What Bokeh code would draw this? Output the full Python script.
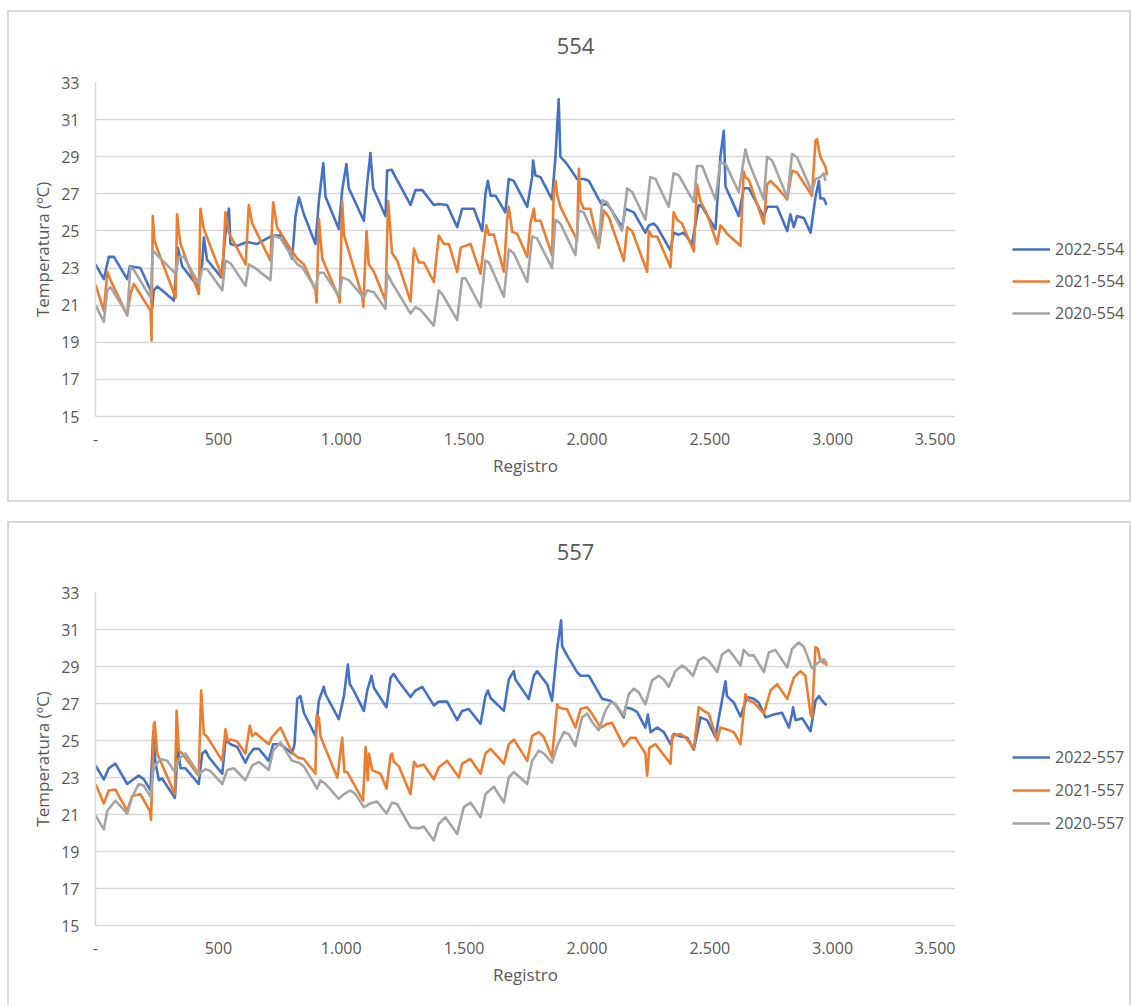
from bokeh.plotting import figure
from bokeh.models import Range1d, FixedTicker, Legend, LegendItem, Label
from bokeh.layouts import column, row
from bokeh.embed import file_html
from bokeh.resources import INLINE

# ---------------- data (Registro, Temperatura ºC) ----------------
X_TICKS = [0, 500, 1000, 1500, 2000, 2500, 3000, 3500]
X_TICK_LABELS = ["-", "500", "1.000", "1.500", "2.000", "2.500", "3.000", "3.500"]
Y_TICKS = [15, 17, 19, 21, 23, 25, 27, 29, 31, 33]

S554_2022 = [(0, 23.2), (34, 22.4), (54, 23.6), (75, 23.6), (129, 22.4), (140, 23.1), (183, 23.0), (224, 21.8),
             (231, 20.85), (237, 21.8), (251, 22.0), (271, 21.8), (319, 21.25), (335, 24.1), (353, 23.1), (414, 22.05),
             (434, 23.2), (441, 24.65), (454, 23.45), (512, 22.5), (529, 24.85), (543, 26.2), (549, 24.3), (577, 24.2),
             (617, 24.4), (658, 24.3), (719, 24.75), (760, 24.75), (800, 23.5), (814, 25.8), (828, 26.8), (848, 25.9),
             (895, 24.3), (909, 26.6), (927, 28.64), (936, 26.85), (990, 25.1), (1004, 27.2), (1021, 28.6), (1031, 27.3),
             (1092, 25.55), (1106, 27.6), (1119, 29.2), (1130, 27.3), (1180, 25.8), (1187, 28.25), (1205, 28.3),
             (1221, 27.9), (1282, 26.4), (1302, 27.2), (1330, 27.2), (1377, 26.4), (1397, 26.45), (1431, 26.4),
             (1472, 25.2), (1492, 26.2), (1540, 26.2), (1574, 25.0), (1587, 27.0), (1597, 27.7), (1608, 26.9),
             (1628, 26.9), (1668, 26.0), (1682, 27.8), (1702, 27.7), (1757, 26.3), (1777, 27.9), (1781, 28.8),
             (1790, 28.0), (1811, 27.9), (1858, 26.7), (1872, 29.0), (1885, 32.1), (1892, 29.0), (1919, 28.6),
             (1960, 27.8), (1987, 27.8), (2008, 27.7), (2048, 26.7), (2062, 26.4), (2082, 26.45), (2096, 26.2),
             (2143, 25.2), (2157, 26.2), (2191, 26.0), (2238, 24.9), (2252, 25.3), (2272, 25.4), (2286, 25.2),
             (2340, 23.95), (2353, 24.9), (2374, 24.8), (2394, 24.9), (2428, 24.3), (2455, 26.4), (2469, 26.3),
             (2523, 25.1), (2543, 29.0), (2557, 30.4), (2564, 27.4), (2618, 25.8), (2638, 27.3), (2659, 27.3),
             (2720, 25.75), (2733, 26.3), (2774, 26.3), (2815, 25.0), (2828, 25.9), (2842, 25.2), (2855, 25.8),
             (2883, 25.7), (2910, 24.9), (2930, 26.8), (2944, 27.7), (2950, 26.75), (2964, 26.75), (2975, 26.4)]

S554_2021 = [(0, 22.1), (34, 20.7), (48, 22.8), (61, 22.35), (129, 20.45), (142, 21.6), (156, 22.15), (224, 20.7),
             (228, 19.1), (233, 25.8), (240, 24.5), (251, 24.05), (326, 21.4), (332, 25.9), (339, 25.0), (346, 24.3),
             (421, 21.6), (427, 26.2), (441, 25.1), (516, 22.5), (529, 26.0), (543, 24.9), (611, 23.2), (624, 26.4),
             (638, 25.4), (712, 23.4), (723, 26.55), (739, 25.2), (800, 23.9), (821, 23.5), (848, 23.2), (895, 21.8),
             (900, 21.15), (909, 25.65), (923, 23.5), (990, 21.4), (994, 21.15), (1004, 26.6), (1011, 24.8),
             (1031, 23.9), (1085, 21.5), (1090, 20.9), (1103, 25.0), (1112, 23.2), (1133, 22.8), (1180, 21.25),
             (1191, 26.6), (1207, 23.8), (1228, 23.4), (1282, 21.2), (1296, 24.05), (1316, 23.3), (1336, 23.3),
             (1377, 22.25), (1397, 24.75), (1418, 24.3), (1438, 24.3), (1472, 22.8), (1486, 24.1), (1526, 24.3),
             (1567, 22.7), (1581, 24.3), (1591, 25.3), (1601, 24.8), (1621, 24.8), (1662, 22.8), (1675, 25.6),
             (1682, 26.3), (1696, 24.95), (1716, 24.85), (1757, 23.6), (1770, 25.4), (1784, 26.2), (1790, 25.55),
             (1811, 25.55), (1858, 23.7), (1865, 27.2), (1872, 27.7), (1879, 26.95), (1892, 26.3), (1960, 24.5),
             (1967, 28.35), (1974, 26.6), (1987, 26.2), (2014, 26.2), (2048, 24.1), (2069, 26.1), (2089, 25.75),
             (2150, 23.4), (2164, 25.2), (2184, 25.0), (2245, 22.8), (2252, 25.0), (2265, 24.7), (2286, 24.7),
             (2340, 23.05), (2353, 26.0), (2367, 25.6), (2387, 25.4), (2435, 23.9), (2448, 27.5), (2462, 26.6),
             (2489, 25.9), (2530, 24.3), (2543, 25.3), (2557, 25.1), (2570, 24.85), (2625, 24.2), (2638, 28.2),
             (2645, 27.9), (2659, 27.75), (2720, 25.4), (2733, 27.5), (2747, 27.7), (2774, 27.35), (2815, 26.7),
             (2835, 28.25), (2855, 28.15), (2916, 26.9), (2930, 29.85), (2937, 29.95), (2944, 29.35), (2950, 29.0),
             (2971, 28.45), (2977, 28.0)]

S554_2020 = [(0, 21.0), (34, 20.1), (48, 21.8), (61, 21.97), (129, 20.5), (142, 23.05), (156, 22.9), (224, 21.4),
             (233, 23.95), (251, 23.7), (326, 22.7), (339, 23.6), (360, 23.6), (421, 22.15), (434, 22.95), (454, 22.95),
             (516, 21.8), (529, 23.4), (550, 23.25), (611, 22.05), (624, 23.2), (644, 23.05), (712, 22.35), (723, 24.75),
             (753, 24.6), (800, 23.6), (821, 23.2), (841, 23.05), (895, 21.9), (909, 22.75), (929, 22.75), (990, 21.5),
             (1004, 22.5), (1031, 22.35), (1092, 21.4), (1106, 21.8), (1133, 21.7), (1180, 20.8), (1187, 22.7),
             (1207, 22.2), (1282, 20.55), (1302, 20.9), (1323, 20.75), (1377, 19.9), (1397, 21.8), (1411, 21.6),
             (1472, 20.2), (1492, 22.45), (1506, 22.45), (1567, 20.9), (1587, 23.4), (1601, 23.3), (1662, 21.45),
             (1682, 24.0), (1702, 23.8), (1757, 22.25), (1777, 24.7), (1797, 24.6), (1858, 23.0), (1872, 25.6),
             (1892, 25.4), (1953, 23.7), (1967, 26.1), (1987, 26.0), (2048, 24.2), (2062, 26.65), (2082, 26.55),
             (2143, 25.0), (2164, 27.3), (2184, 27.1), (2238, 25.6), (2258, 27.9), (2279, 27.8), (2333, 26.3),
             (2353, 28.1), (2374, 28.0), (2435, 26.55), (2448, 28.5), (2469, 28.5), (2523, 26.7), (2543, 28.7),
             (2564, 28.6), (2618, 27.1), (2645, 29.4), (2659, 28.7), (2720, 26.7), (2733, 29.0), (2754, 28.8),
             (2815, 26.8), (2835, 29.15), (2855, 28.97), (2916, 27.1), (2930, 27.8), (2950, 27.9), (2964, 28.1),
             (2971, 27.7)]

S557_2022 = [(0, 23.65), (34, 22.9), (54, 23.5), (81, 23.75), (129, 22.65), (149, 22.85), (176, 23.1), (197, 22.9),
             (224, 22.3), (235, 25.45), (244, 23.8), (258, 22.85), (271, 22.95), (323, 21.9), (335, 24.6), (346, 23.5),
             (366, 23.5), (420, 22.65), (434, 24.3), (448, 24.45), (461, 24.1), (516, 23.2), (529, 25.0), (550, 24.8),
             (577, 24.65), (610, 23.8), (624, 24.2), (644, 24.55), (665, 24.55), (705, 23.9), (723, 24.8), (753, 24.8),
             (800, 24.3), (810, 24.8), (821, 27.25), (834, 27.4), (848, 26.5), (895, 25.25), (909, 27.15), (929, 27.9),
             (936, 27.5), (990, 26.15), (1011, 27.4), (1027, 29.1), (1035, 28.05), (1051, 27.7), (1092, 26.6),
             (1106, 27.7), (1123, 28.5), (1133, 27.85), (1184, 26.8), (1201, 28.4), (1214, 28.6), (1228, 28.3),
             (1282, 27.35), (1302, 27.7), (1330, 27.9), (1377, 26.9), (1397, 27.1), (1431, 27.1), (1472, 26.1),
             (1492, 26.6), (1519, 26.7), (1567, 25.9), (1587, 27.4), (1597, 27.7), (1608, 27.3), (1662, 26.6),
             (1682, 28.3), (1702, 28.75), (1709, 28.3), (1763, 27.25), (1784, 28.5), (1797, 28.75), (1811, 28.5),
             (1838, 28.05), (1858, 27.15), (1879, 30.0), (1895, 31.5), (1899, 30.1), (1919, 29.6), (1960, 28.7),
             (1974, 28.5), (2008, 28.5), (2062, 27.25), (2096, 27.15), (2116, 26.95), (2150, 26.25), (2157, 26.8),
             (2184, 26.7), (2204, 26.55), (2238, 25.7), (2248, 26.4), (2259, 25.45), (2286, 25.7), (2313, 25.45),
             (2340, 24.8), (2353, 25.35), (2374, 25.25), (2408, 25.15), (2435, 24.5), (2462, 26.25), (2489, 26.1),
             (2523, 25.2), (2557, 27.7), (2564, 28.2), (2570, 27.4), (2598, 27.05), (2625, 26.3), (2652, 27.35),
             (2679, 27.25), (2699, 27.05), (2727, 26.25), (2760, 26.4), (2794, 26.5), (2822, 25.7), (2835, 26.45),
             (2839, 26.8), (2849, 26.1), (2876, 26.2), (2910, 25.5), (2930, 27.15), (2944, 27.4), (2957, 27.15),
             (2975, 26.9)]

S557_2021 = [(0, 22.65), (34, 21.6), (54, 22.3), (81, 22.35), (129, 21.2), (149, 22.0), (183, 22.1), (221, 21.2),
             (226, 20.7), (237, 25.9), (241, 26.0), (251, 24.3), (323, 22.1), (330, 26.6), (339, 24.45), (353, 24.3),
             (420, 23.1), (430, 27.7), (441, 25.35), (454, 25.2), (516, 23.9), (529, 25.6), (539, 24.95), (550, 25.05),
             (577, 24.95), (610, 24.3), (628, 25.8), (638, 25.25), (651, 25.4), (705, 24.8), (719, 25.2), (753, 25.7),
             (800, 24.35), (821, 24.1), (848, 24.0), (895, 23.2), (900, 26.35), (909, 26.25), (916, 25.2), (984, 23.0),
             (1004, 25.15), (1013, 23.3), (1024, 23.3), (1089, 21.75), (1099, 24.65), (1108, 22.85), (1113, 24.3),
             (1126, 23.4), (1160, 23.2), (1184, 22.4), (1201, 24.2), (1207, 24.3), (1214, 23.85), (1235, 23.6),
             (1282, 22.1), (1296, 23.85), (1309, 23.6), (1336, 23.7), (1377, 22.9), (1397, 23.55), (1431, 23.9),
             (1479, 23.0), (1492, 23.75), (1526, 24.0), (1567, 23.2), (1587, 24.3), (1608, 24.55), (1662, 23.75),
             (1682, 24.8), (1703, 25.05), (1757, 23.9), (1777, 25.25), (1804, 25.45), (1824, 25.2), (1858, 24.1),
             (1879, 26.95), (1885, 26.8), (1906, 26.7), (1919, 26.7), (1953, 25.7), (1974, 26.7), (2001, 26.8),
             (2021, 26.44), (2055, 25.7), (2082, 25.9), (2102, 25.95), (2150, 24.7), (2177, 25.15), (2197, 25.15),
             (2238, 24.3), (2245, 23.1), (2254, 24.6), (2279, 24.8), (2340, 23.75), (2347, 25.25), (2381, 25.35),
             (2401, 25.18), (2435, 24.55), (2455, 26.8), (2476, 26.6), (2496, 26.45), (2530, 25.0), (2543, 25.7),
             (2570, 25.6), (2598, 25.45), (2625, 24.8), (2645, 27.5), (2659, 27.15), (2679, 27.06), (2720, 26.45),
             (2747, 27.7), (2774, 28.05), (2815, 27.25), (2842, 28.4), (2869, 28.75), (2889, 28.5), (2910, 26.45),
             (2916, 26.26), (2930, 30.05), (2940, 29.95), (2950, 29.3), (2971, 29.15), (2977, 29.05)]

S557_2020 = [(0, 20.95), (34, 20.2), (48, 21.2), (81, 21.75), (129, 21.05), (149, 21.95), (176, 22.65), (197, 22.55),
             (224, 21.95), (237, 23.55), (265, 24.0), (292, 23.9), (323, 23.3), (339, 24.0), (366, 24.3), (420, 23.2),
             (448, 23.45), (468, 23.35), (516, 22.65), (536, 23.4), (563, 23.5), (610, 22.85), (638, 23.65),
             (665, 23.85), (705, 23.4), (723, 24.45), (753, 24.9), (800, 23.9), (828, 23.8), (848, 23.6), (902, 22.4),
             (915, 22.85), (936, 22.65), (990, 21.85), (1011, 22.1), (1038, 22.3), (1058, 22.1), (1092, 21.4),
             (1119, 21.6), (1146, 21.7), (1184, 21.05), (1207, 21.65), (1228, 21.55), (1282, 20.3), (1316, 20.25),
             (1336, 20.35), (1377, 19.6), (1397, 20.5), (1424, 20.85), (1472, 19.95), (1499, 21.4), (1526, 21.65),
             (1567, 20.85), (1587, 22.1), (1621, 22.5), (1662, 21.65), (1682, 23.0), (1703, 23.3), (1757, 22.65),
             (1777, 23.9), (1804, 24.45), (1824, 24.3), (1858, 23.8), (1879, 24.7), (1906, 25.45), (1926, 25.35),
             (1953, 24.7), (1980, 26.25), (2001, 26.45), (2021, 26.0), (2048, 25.55), (2075, 26.6), (2096, 27.05),
             (2116, 26.97), (2150, 26.35), (2170, 27.5), (2191, 27.8), (2211, 27.6), (2238, 26.95), (2265, 28.25),
             (2292, 28.5), (2313, 28.3), (2333, 27.9), (2360, 28.75), (2387, 29.05), (2408, 28.85), (2432, 28.5),
             (2455, 29.35), (2476, 29.5), (2496, 29.3), (2530, 28.7), (2550, 29.65), (2577, 29.9), (2598, 29.55),
             (2625, 29.05), (2638, 29.9), (2659, 29.6), (2679, 29.6), (2720, 28.7), (2740, 29.75), (2767, 29.9),
             (2815, 28.95), (2835, 29.95), (2862, 30.3), (2883, 30.05), (2916, 28.9), (2930, 29.1), (2950, 29.3),
             (2964, 29.4), (2977, 29.15)]

PANELS = [
    ("554", [("2022-554", S554_2022), ("2021-554", S554_2021), ("2020-554", S554_2020)]),
    ("557", [("2022-557", S557_2022), ("2021-557", S557_2021), ("2020-557", S557_2020)]),
]
COLORS = ["#4472C4", "#ED7D31", "#A5A5A5"]

FONT = "Open Sans"
TXT = "#595959"
GRID = "#D9D9D9"

CONTENT_W = 1120
CONTENT_H = 488
TITLE_H = 55
MAIN_W = 946
LEG_W = CONTENT_W - MAIN_W
MAIN_H = CONTENT_H - TITLE_H
NAN = float("nan")


def blank_fig(w, h):
    f = figure(width=w, height=h, x_range=Range1d(0, 1), y_range=Range1d(0, 1),
               x_axis_type=None, y_axis_type=None, output_backend="svg", toolbar_location=None,
               min_border=0, title_location=None)
    f.outline_line_color = None
    f.background_fill_color = "white"
    f.border_fill_color = "white"
    return f


def make_panel(title, series, title_y, mbt, mbb, leg_y, leg_spacing):
    # title strip
    tf = blank_fig(CONTENT_W, TITLE_H)
    tf.add_layout(Label(x=566, y=title_y, x_units="screen", y_units="screen", text=title,
                        text_font=FONT, text_font_size="22px", text_color=TXT,
                        text_align="center", text_baseline="middle"))

    # main chart
    p = figure(width=MAIN_W, height=MAIN_H, x_range=Range1d(0, 3500), y_range=Range1d(15, 33),
               output_backend="svg", toolbar_location=None, title_location=None,
               min_border_left=86, min_border_right=0, min_border_top=mbt, min_border_bottom=mbb,
               x_axis_label="Registro", y_axis_label="Temperatura (ºC)")
    p.outline_line_color = None
    p.background_fill_color = "white"
    p.border_fill_color = "white"

    p.xaxis.ticker = FixedTicker(ticks=X_TICKS)
    p.xaxis.major_label_overrides = {t: l for t, l in zip(X_TICKS, X_TICK_LABELS)}
    p.yaxis.ticker = FixedTicker(ticks=Y_TICKS)
    for ax in (p.xaxis, p.yaxis):
        ax.major_tick_line_color = None
        ax.minor_tick_line_color = None
        ax.axis_line_color = GRID
        ax.axis_line_width = 1.5
        ax.major_label_text_font = FONT
        ax.major_label_text_font_size = "16px"
        ax.major_label_text_color = TXT
        ax.axis_label_text_font = FONT
        ax.axis_label_text_font_size = "17px"
        ax.axis_label_text_font_style = "normal"
        ax.axis_label_text_color = TXT
    p.xaxis.major_label_standoff = 10
    p.xaxis.axis_label_standoff = 6
    p.yaxis.major_label_standoff = 10
    p.yaxis.axis_label_standoff = 4

    p.xgrid.grid_line_color = None
    p.ygrid.grid_line_color = GRID
    p.ygrid.grid_line_width = 1.5

    for (name, pts), col in zip(series, COLORS):
        xs = [a for a, b in pts]
        ys = [b for a, b in pts]
        p.line(xs, ys, line_color=col, line_width=2.6, line_join="round")

    # legend strip (own figure, so the legend is not clipped by the plot frame);
    # its renderers only carry the line style (a single NaN point, nothing drawn)
    lf = blank_fig(LEG_W, MAIN_H)
    items = []
    for (name, pts), col in zip(series, COLORS):
        r = lf.line(x=[NAN], y=[NAN], line_color=col, line_width=2.6)
        items.append(LegendItem(label=name, renderers=[r]))
    leg = Legend(items=items, location=(57, leg_y))
    leg.border_line_color = None
    leg.background_fill_alpha = 0
    leg.padding = 0
    leg.margin = 0
    leg.spacing = leg_spacing
    leg.glyph_width = 38
    leg.glyph_height = 22
    leg.label_height = 22
    leg.label_standoff = 5
    leg.label_text_font = FONT
    leg.label_text_font_size = "16px"
    leg.label_text_color = TXT
    lf.add_layout(leg, "center")

    box = column(tf, row(p, lf, spacing=0), spacing=0)
    box.styles = {"border": "2px solid #D9D9D9"}
    return box


panel1 = make_panel(PANELS[0][0], PANELS[0][1], title_y=22, mbt=15, mbb=84, leg_y=92, leg_spacing=10)
panel2 = make_panel(PANELS[1][0], PANELS[1][1], title_y=27, mbt=14, mbb=86, leg_y=91, leg_spacing=11)

layout = column(panel1, panel2, spacing=19)
layout.styles = {"margin-left": "7px", "margin-top": "10px"}

open("out.html", "w").write(file_html(layout, INLINE))
